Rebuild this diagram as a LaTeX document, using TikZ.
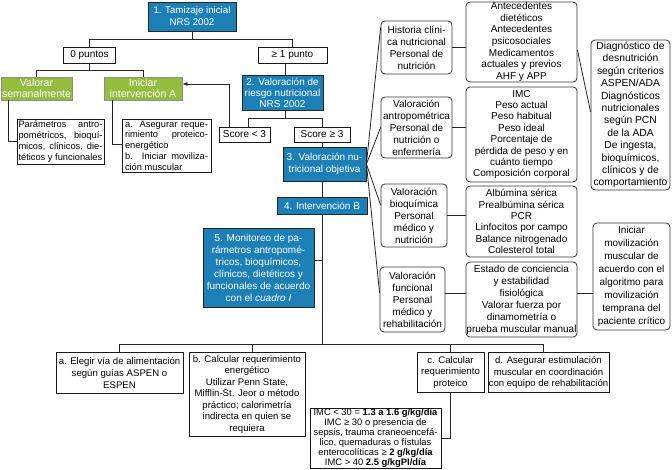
\documentclass[tikz,border=0pt]{standalone}
\usepackage{fontspec}
\setmainfont{Liberation Sans}
\usetikzlibrary{arrows.meta}
\definecolor{nblue}{RGB}{28,128,183}
\definecolor{ngreen}{RGB}{148,189,64}
\newcommand{\jl}[2]{\makebox[#1][s]{#2}}
\begin{document}
\begin{tikzpicture}[x=1pt,y=-1pt,
  base/.style={inner sep=0pt, align=center, line width=0.8pt},
  bluebox/.style={base, fill=nblue, draw=black!85, text=white, font=\fontsize{10}{12}\selectfont},
  greenbox/.style={base, fill=ngreen, draw=black!45, text=white, font=\fontsize{10.5}{10.5}\selectfont},
  plainbox/.style={base, fill=white, draw=black!90, font=\fontsize{10}{12}\selectfont},
  roundbox/.style={base, fill=white, draw=black!80, rounded corners=4pt, font=\fontsize{10}{12}\selectfont},
  botbox/.style={plainbox, font=\fontsize{9.6}{11.8}\selectfont},
  conn/.style={line width=0.8pt, draw=black!85},
  sz/.style 2 args={minimum width=#1pt, minimum height=#2pt},
]
\useasboundingbox (0,0) rectangle (672,470);
\fill[white] (0,0) rectangle (672,470);

% left / centre tree
\node[bluebox, sz={88}{29}, font=\fontsize{9.7}{12}\selectfont] (tam) at (192,16.5) {1. Tamizaje inicial\\NRS 2002};
\node[plainbox, sz={52}{16}] (p0) at (89.5,55) {0 puntos};
\node[plainbox, sz={69}{16}] (p1) at (292.5,55) {≥ 1 punto};
\node[greenbox, sz={71}{23}] (valsem) at (36.5,88.5) {Valorar\\semanalmente};
\node[greenbox, sz={78}{23}] (iniA) at (143,88.5) {Iniciar\\intervención A};
\node[bluebox, sz={81}{35}, font=\fontsize{10}{11}\selectfont] (val2) at (282.5,92.5) {2. Valoración de\\riesgo nutricional\\NRS 2002};
\node[plainbox, sz={51}{15}] (sc3) at (244.5,134.5) {Score < 3};
\node[plainbox, sz={56}{15}] (scg3) at (322,134.5) {Score ≥ 3};
\node[bluebox, sz={83}{34}, font=\fontsize{10}{12.5}\selectfont] (val3) at (324.5,164) {3. Valoración nu-\\tricional objetiva};
\node[bluebox, sz={90}{17}] (intB) at (322,205.5) {4. Intervención B};
\node[bluebox, sz={111}{79}] (mon) at (258.5,267.5) {5. Monitoreo de pa-\\rámetros antropomé-\\tricos, bioquímicos,\\clínicos, dietéticos y\\funcionales de acuerdo\\con el \textit{cuadro I}};
\node[plainbox, sz={87}{45}, align=left, font=\fontsize{9.3}{11}\selectfont] (par) at (60.5,141.5) {\jl{84pt}{Parámetros antro-}\\\jl{84pt}{pométricos, bioquí-}\\\jl{84pt}{micos, clínicos, die-}\\téticos y funcionales};
\node[plainbox, sz={89}{53}, align=left, font=\fontsize{9.3}{10.8}\selectfont] (ase) at (166.5,145.5) {\jl{83pt}{a. Asegurar reque-}\\\jl{83pt}{rimiento proteico-}\\energético\\\jl{83pt}{b. Iniciar moviliza-}\\ción muscular};

% right columns
\node[roundbox, sz={71}{53}] (hist) at (416.5,47.5) {Historia clíni-\\ca nutricional\\Personal de\\nutrición};
\node[roundbox, sz={71}{61}] (antro) at (416.5,127.5) {Valoración\\antropométrica\\Personal de\\nutrición o\\enfermería};
\node[roundbox, sz={66}{63}] (bioq) at (414,215.5) {Valoración\\bioquímica\\Personal\\médico y\\nutrición};
\node[roundbox, sz={65}{65}] (func) at (412.5,299.5) {Valoración\\funcional\\Personal\\médico y\\rehabilitación};
\node[roundbox, sz={111}{80}, font=\fontsize{10}{11.6}\selectfont] (ante) at (521.5,42) {Antecedentes\\dietéticos\\Antecedentes\\psicosociales\\Medicamentos\\actuales y previos\\AHF y APP};
\node[roundbox, sz={111}{95}, font=\fontsize{10}{11.4}\selectfont] (imcr) at (521.5,134.5) {IMC\\Peso actual\\Peso habitual\\Peso ideal\\Porcentaje de\\pérdida de peso y en\\cuánto tiempo\\Composición corporal};
\node[roundbox, sz={111}{71}, font=\fontsize{10}{11.3}\selectfont] (alb) at (521.5,221.5) {Albúmina sérica\\Prealbúmina sérica\\PCR\\Linfocitos por campo\\Balance nitrogenado\\Colesterol total};
\node[roundbox, sz={111}{75}] (est) at (521.5,299.5) {Estado de conciencia\\y estabilidad\\fisiológica\\Valorar fuerza por\\dinamometría o\\prueba muscular manual};
\node[roundbox, sz={79}{150}, font=\fontsize{10.3}{12.4}\selectfont] (diag) at (630.5,115) {Diagnóstico de\\desnutrición\\según criterios\\ASPEN/ADA\\Diagnósticos\\nutricionales\\según PCN\\de la ADA\\De ingesta,\\bioquímicos,\\clínicos y de\\comportamiento};
\node[roundbox, sz={77}{107}, font=\fontsize{10}{13}\selectfont] (iniM) at (631.5,276.5) {Iniciar\\movilización\\muscular de\\acuerdo con el\\algoritmo para\\movilización\\temprana del\\paciente crítico};

% bottom row
\node[botbox, sz={127}{41}] (ba) at (119.5,373) {a. Elegir vía de alimentación\\según guías ASPEN o\\ESPEN};
\node[botbox, sz={116}{84}, font=\fontsize{9.6}{11.5}\selectfont] (bb) at (247,394.5) {b. Calcular requerimiento\\energético\\Utilizar Penn State,\\Mifflin-St. Jeor o método\\práctico; calorimetría\\indirecta en quien se\\requiera};
\node[botbox, sz={67}{40}] (bc) at (450.5,372.5) {c. Calcular\\requerimiento\\proteico};
\node[botbox, sz={121}{40}] (bd) at (548.5,372.5) {d. Asegurar estimulación\\muscular en coordinación\\con equipo de rehabilitación};
\node[plainbox, sz={131}{60}, font=\fontsize{9.4}{9.9}\selectfont] (imcb) at (375.5,438) {IMC < 30 = \textbf{1.3 a 1.6 g/kg/día}\\IMC ≥ 30 o presencia de\\sepsis, trauma craneoencefá-\\lico, quemaduras o fístulas\\enterocolíticas ≥ \textbf{2 g/kg/día}\\IMC > 40 \textbf{2.5 g/kgPI/día}};

% connectors, left tree
\draw[conn] (tam.south) -- ++(0,8) -| (p0.north);
\draw[conn] (tam.south) -- ++(0,8) -| (p1.north);
\draw[conn] (p0.south) -- ++(0,7) -| (valsem.north);
\draw[conn] (p0.south) -- ++(0,7) -| (iniA.north);
\draw[conn] ([xshift=-28.5pt]valsem.south) |- (par.west);
\draw[conn] ([xshift=-31pt]iniA.south) |- ([yshift=1.5pt]ase.west);
\draw[conn] ([xshift=-7.5pt]p1.south) -- ([xshift=-7.5pt]p1.south |- val2.north);
\draw[conn] ([xshift=2.5pt]val2.south) -- ++(0,8) -| ([xshift=3.5pt]sc3.north);
\draw[conn] ([xshift=2.5pt]val2.south) -- ++(0,8) -| (scg3.north);
\draw[conn, -{Latex[length=5pt,width=4pt]}] ([xshift=-15.5pt]sc3.north) |- ([yshift=4.5pt]iniA.east);
\draw[conn] (scg3.south) -- (scg3.south |- val3.north);
\draw[conn] (scg3.south |- val3.south) -- (scg3.south |- intB.north);
\coordinate (j) at (322,345);
\draw[conn] (intB.south) -- (j);
\draw[conn] ([yshift=7.5pt]mon.east) -- ([yshift=7.5pt]mon.east -| j);
\draw[conn] (ba.north) -- ++(0,-7.5) -| ([xshift=-5.5pt]bd.north);
\draw[conn] ([xshift=5pt]bb.north) -- ++(0,-7.5);
\draw[conn] (bc.north) -- ++(0,-7.5);
\draw[conn] (bc.south) |- (imcb.east);

% connectors, right side
\draw[conn] (val3.east) -- ([yshift=-7pt]hist.north west);
\draw[conn] (val3.east) -- (antro.west);
\draw[conn] (val3.east) -- ([yshift=10.5pt]bioq.west);
\draw[conn] (val3.east) -- ([yshift=6.5pt]func.west);
\draw[conn] (hist.east) -- (hist.east -| ante.west);
\draw[conn] (antro.east) -- (antro.east -| imcr.west);
\draw[conn] (bioq.east) -- (bioq.east -| alb.west);
\draw[conn] ([yshift=6.5pt]func.east) -- ([yshift=6.5pt]func.east -| est.west);
\draw[conn] ([yshift=6.5pt]func.east -| est.east) -- ([yshift=6.5pt]func.east -| iniM.west);
\draw[conn] ([yshift=-8pt]ante.east) -- ([yshift=3pt]diag.west);
\end{tikzpicture}
\end{document}
